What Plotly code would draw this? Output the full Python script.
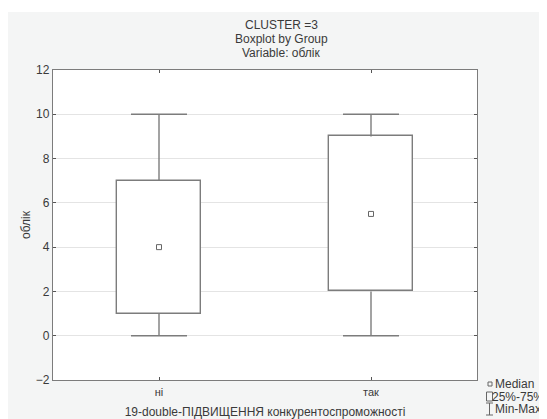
import plotly.graph_objects as go

# ---- data ----
categories = ["ні", "так"]
mins = [0, 0]
q1 = [1, 2]
medians = [4, 5.5]
q3 = [7, 9]
maxs = [10, 10]
y_ticks = [-2, 0, 2, 4, 6, 8, 10, 12]
legend_labels = ["Median", "25%-75%", "Min-Max"]

title_lines = ["CLUSTER =3", "Boxplot by Group", "Variable: облік"]
x_title = "19-double-ПІДВИЩЕННЯ конкурентоспроможності"
y_title = "облік"

# ---- geometry (page pixels; the page body adds an 8px offset) ----
OFF = 8
W, H = 547 - OFF, 419 - OFF
L, T = 53 - OFF, 70 - OFF
R = 547 - 477
B = 419 - 380
PW, PH = W - L - R, H - T - B


def px2x(px):
    return (px - OFF - L) / PW


def py2y(py):
    return (OFF + H - B - py) / PH


FONT = "Liberation Sans, Arial, sans-serif"
TXT = "#3a3a3a"
LINE = "#7c7c7c"
LW = 1.4

box_h = [b - a for a, b in zip(q1, q3)]
upper = [m - b for b, m in zip(q3, maxs)]
lower = [a - m for a, m in zip(q1, mins)]
zeros = [0 for _ in categories]

fig = go.Figure()

# boxes (25%-75%)
fig.add_trace(go.Bar(
    x=categories, y=box_h, base=q1, width=0.4,
    marker=dict(color="white", line=dict(color=LINE, width=LW)),
    showlegend=False, hoverinfo="skip",
))
# upper whisker stems
fig.add_trace(go.Scatter(
    x=categories, y=q3, mode="markers",
    marker=dict(size=1, color="rgba(0,0,0,0)"),
    error_y=dict(type="data", symmetric=False, array=upper, arrayminus=zeros,
                 width=0, thickness=LW, color=LINE),
    showlegend=False, hoverinfo="skip",
))
# lower whisker stems
fig.add_trace(go.Scatter(
    x=categories, y=q1, mode="markers",
    marker=dict(size=1, color="rgba(0,0,0,0)"),
    error_y=dict(type="data", symmetric=False, array=zeros, arrayminus=lower,
                 width=0, thickness=LW, color=LINE),
    showlegend=False, hoverinfo="skip",
))
# whisker caps (min and max)
for vals in (maxs, mins):
    fig.add_trace(go.Scatter(
        x=categories, y=vals, mode="markers",
        marker=dict(symbol="line-ew", size=40, color=LINE, line=dict(color=LINE, width=LW)),
        showlegend=False, hoverinfo="skip",
    ))
# medians
fig.add_trace(go.Scatter(
    x=categories, y=medians, mode="markers",
    marker=dict(symbol="square-open", size=5, color="#666666", line=dict(width=1)),
    showlegend=False, hoverinfo="skip",
))

ICON = "#666666"
shapes = [
    # white strip above the grey frame
    dict(type="rect", xref="paper", yref="paper", x0=px2x(0), x1=px2x(560),
         y0=py2y(12), y1=py2y(0), fillcolor="white", line=dict(width=0), layer="below"),
    # legend icons
    dict(type="rect", xref="paper", yref="paper", x0=px2x(488), x1=px2x(492),
         y0=py2y(386), y1=py2y(382), line=dict(color=ICON, width=1)),
    dict(type="rect", xref="paper", yref="paper", x0=px2x(486.5), x1=px2x(492.5),
         y0=py2y(401), y1=py2y(392), line=dict(color=ICON, width=1)),
    dict(type="line", xref="paper", yref="paper", x0=px2x(489.5), x1=px2x(489.5),
         y0=py2y(415), y1=py2y(403), line=dict(color=ICON, width=1)),
    dict(type="line", xref="paper", yref="paper", x0=px2x(486), x1=px2x(493),
         y0=py2y(403), y1=py2y(403), line=dict(color=ICON, width=1)),
    dict(type="line", xref="paper", yref="paper", x0=px2x(486), x1=px2x(493),
         y0=py2y(415), y1=py2y(415), line=dict(color=ICON, width=1)),
]

annotations = []
for lab, px, py in zip(legend_labels, [493.5, 491.5, 493.5], [384, 396.5, 409]):
    annotations.append(dict(
        text=lab, xref="paper", yref="paper", x=px2x(px), y=py2y(py),
        xanchor="left", yanchor="middle", showarrow=False, borderpad=0,
        font=dict(family=FONT, size=12, color=TXT),
    ))
for line, py in zip(title_lines, [25, 39, 53]):
    annotations.append(dict(
        text=line, xref="paper", yref="paper", x=px2x(281), y=py2y(py),
        xanchor="center", yanchor="middle", showarrow=False,
        font=dict(family=FONT, size=12, color=TXT),
    ))

fig.update_layout(
    width=W, height=H,
    margin=dict(l=L, r=R, t=T, b=B),
    paper_bgcolor="#f4f5f5",
    plot_bgcolor="white",
    font=dict(family=FONT, size=12, color=TXT),
    showlegend=False,
    bargap=0,
    shapes=shapes,
    annotations=annotations,
    xaxis=dict(
        type="category", categoryorder="array", categoryarray=categories,
        range=[-0.5, 1.5], showgrid=False, zeroline=False,
        showline=True, linecolor=LINE, linewidth=LW, mirror="ticks",
        ticks="inside", ticklen=3, tickcolor="#555555",
        ticklabelstandoff=2,
        tickfont=dict(family=FONT, size=11, color=TXT),
        title=dict(text=x_title, standoff=12, font=dict(family=FONT, size=12, color=TXT)),
        automargin=False, fixedrange=True,
    ),
    yaxis=dict(
        range=[-2, 12], tickvals=y_ticks, showgrid=True, gridcolor="#e4e4e4", gridwidth=1,
        zeroline=False, showline=True, linecolor=LINE, linewidth=LW, mirror="ticks",
        ticks="inside", ticklen=3, tickcolor="#555555",
        tickfont=dict(family=FONT, size=12, color=TXT),
        title=dict(text=y_title, standoff=2, font=dict(family=FONT, size=12, color=TXT)),
        automargin=False, fixedrange=True,
    ),
)

fig.write_html("out.html", config=dict(displayModeBar=False))
